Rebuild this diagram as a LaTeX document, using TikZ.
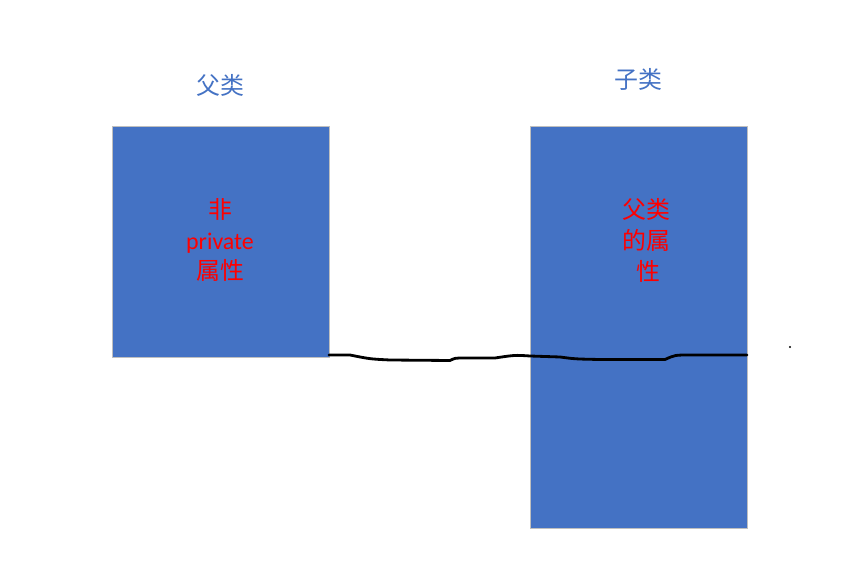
\documentclass[tikz,border=0pt]{standalone}
\usepackage{fontspec}
\newfontfamily\cjk{Noto Sans CJK SC}
\newfontfamily\latinsans{Carlito}
\usetikzlibrary{positioning}
\definecolor{boxblue}{HTML}{4472C4}
\definecolor{boxedge}{HTML}{BFBFBF}
\definecolor{titleblue}{HTML}{4472C4}
\tikzset{
classbox/.style={fill=boxblue,draw=boxedge,line width=0.6pt},
classtitle/.style={font=\fontsize{17}{20}\selectfont\cjk,text=titleblue},
attrtext/.style={font=\fontsize{17}{22}\selectfont\cjk,text=red,align=center},
handline/.style={line width=2pt,black,line cap=round,line join=round}
}

\begin{document}
\begin{tikzpicture}[x=0.025cm,y=-0.025cm]
\useasboundingbox (0,0) rectangle (850,570);
\draw[classbox] (112,126) rectangle (329,357);
\draw[classbox] (530,126) rectangle (747,528);
\node[classtitle] (parent) at (220,85) {父类};
\node[classtitle] (child) at (638,79) {子类};
\node[attrtext] (parentattr) at (220,240) {非\\{\latinsans private}\\属性};
\node[attrtext] (childattr) at (646,240) {父类\\的属\\\ 性};
\coordinate (linestart) at (329,355);
\coordinate (lineend) at (747,355);
\draw[handline] (linestart) -- (350,355) .. controls (370,359) .. (390,360) -- (450,360.5) .. controls (455,358) .. (465,358) -- (495,358) .. controls (515,355) .. (530,356)
  -- (560,357) .. controls (575,359) .. (600,359.5) -- (665,359.5) .. controls (675,355) .. (690,355) -- (lineend);
\fill (790,347) circle (1.1);
\end{tikzpicture}
\end{document}
